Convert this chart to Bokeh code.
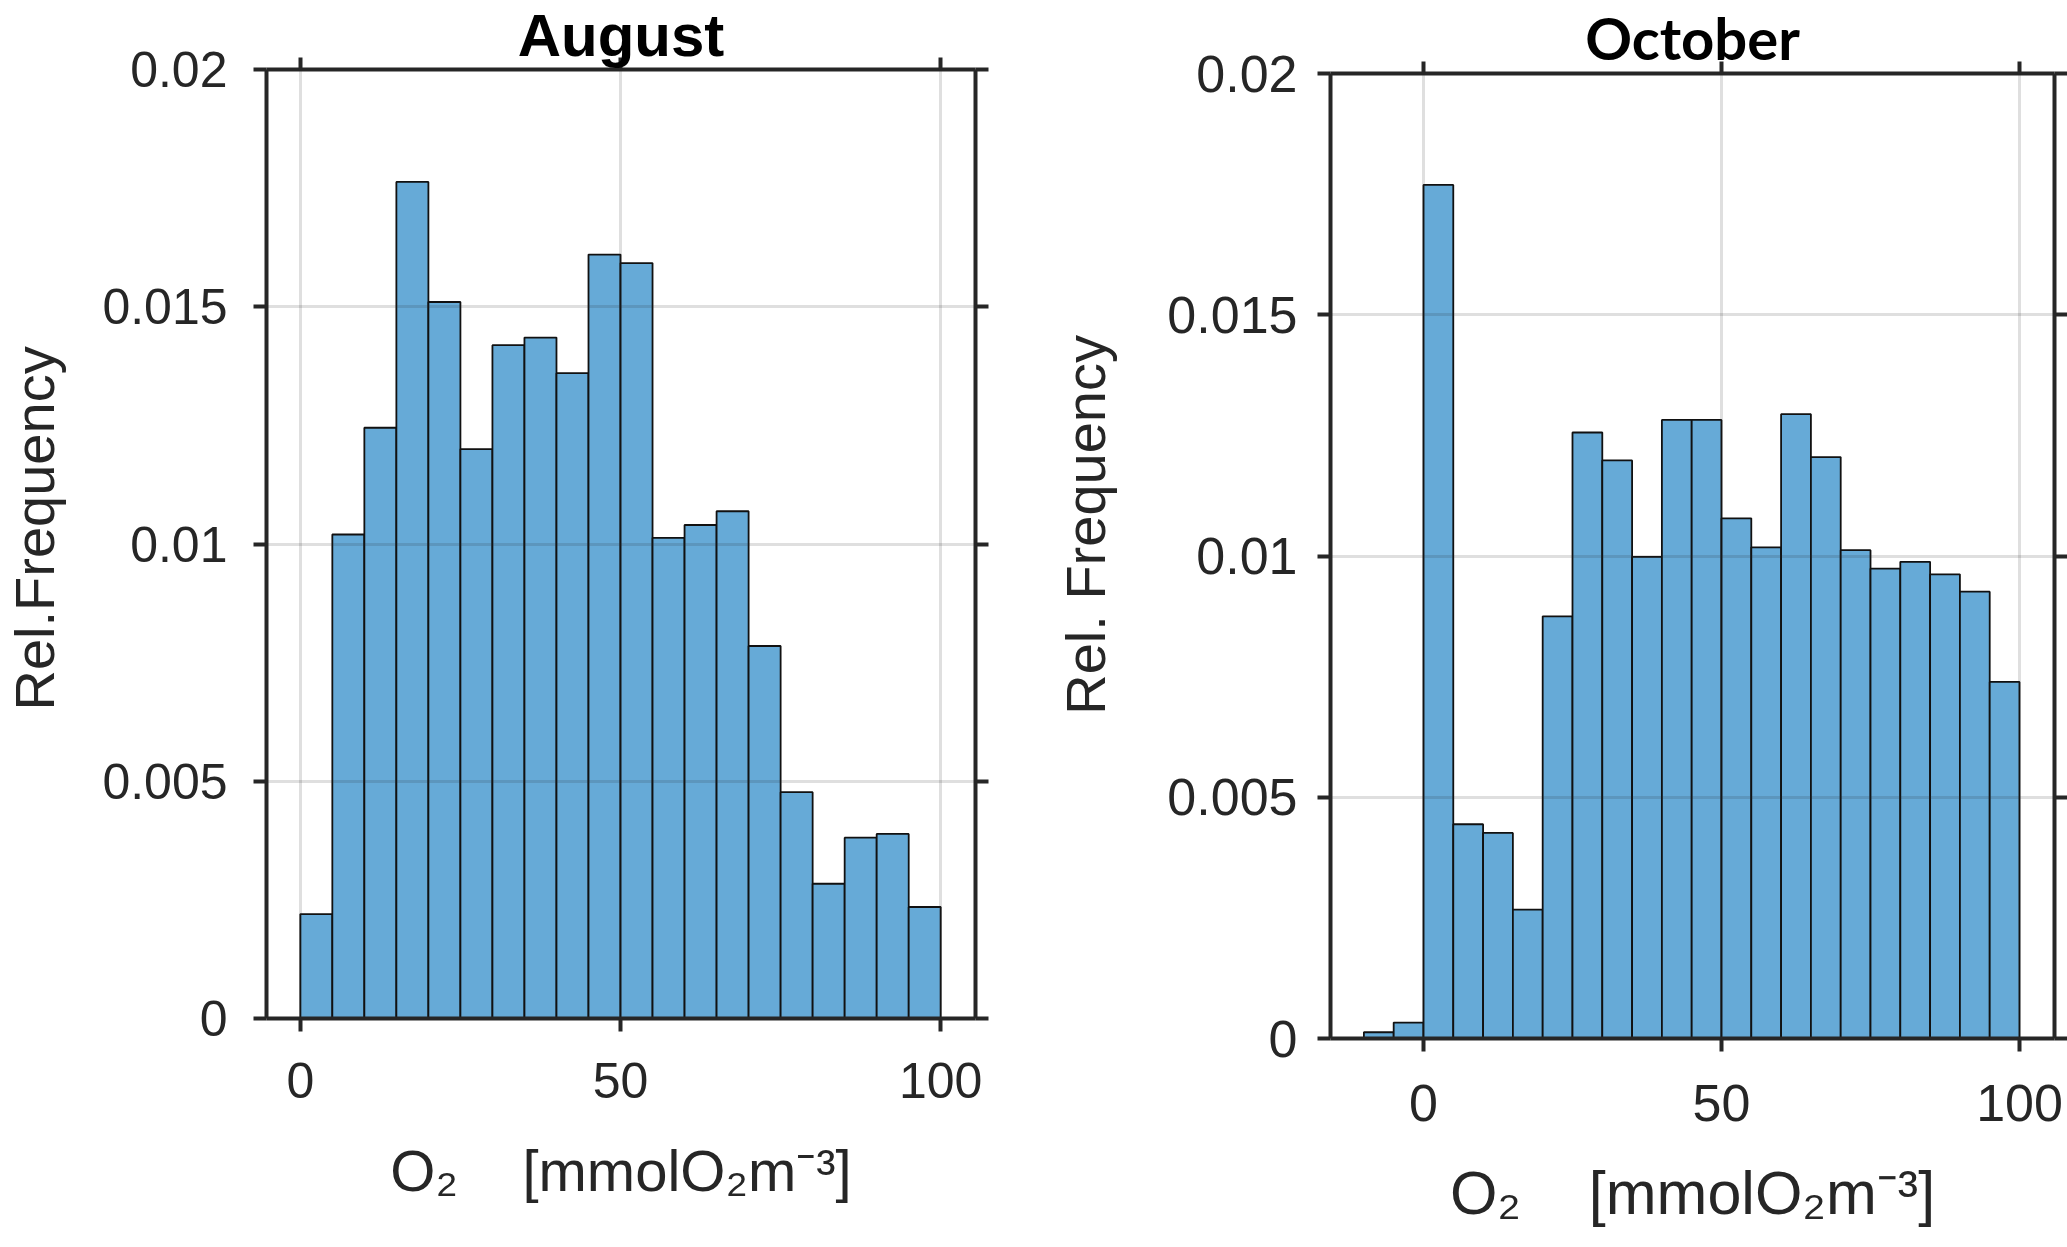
from bokeh.plotting import figure
from bokeh.models import LinearAxis, FixedTicker, Range1d, ColumnDataSource
from bokeh.layouts import row, column
from bokeh.embed import file_html
from bokeh.resources import INLINE

# ---------------- data ----------------
BIN_WIDTH = 5
aug_first_edge = 0
aug_rel_freq = [0.0022, 0.0102, 0.01245, 0.01763, 0.0151, 0.0120, 0.01419, 0.01435, 0.0136, 0.0161,
                0.01592, 0.01013, 0.0104, 0.01069, 0.00785, 0.00477, 0.00284, 0.00381, 0.00389, 0.00235]
oct_first_edge = -10
oct_rel_freq = [0.00013, 0.00033, 0.01769, 0.00444, 0.00426, 0.00267, 0.00875, 0.01256, 0.01198, 0.00998,
                0.01282, 0.01282, 0.01078, 0.01018, 0.01294, 0.01205, 0.01012, 0.00974, 0.00988, 0.00962,
                0.00926, 0.00739]
titles = ["August", "October"]
ylabels = ["Rel.Frequency", "Rel. Frequency"]
xlabel = "O\u2082\u00a0\u00a0\u00a0\u00a0[mmolO\u2082m\u207b\u00b3]"
x_ticks = [0, 50, 100]
x_tick_labels = ["0", "50", "100"]
y_ticks = [0, 0.005, 0.01, 0.015, 0.02]
y_tick_labels = ["0", "0.005", "0.01", "0.015", "0.02"]
Y_MIN, Y_MAX = 0.0, 0.02

AX = "#262626"
BAR = "#66aad7"
FONT = "Liberation Sans"
PAGE_H = 1247


def style_axis(ax, tick_out, standoff, font_size):
    ax.axis_line_width = 4
    ax.axis_line_color = AX
    ax.major_tick_line_width = 4
    ax.major_tick_line_color = AX
    ax.major_tick_out = tick_out
    ax.major_tick_in = 0
    ax.minor_tick_out = 0
    ax.minor_tick_in = 0
    ax.major_label_text_font = FONT
    ax.major_label_text_font_size = font_size
    ax.major_label_text_color = AX
    ax.major_label_standoff = standoff


def style_axis_label(ax, text, size, standoff):
    ax.axis_label = text
    ax.axis_label_text_font = FONT
    ax.axis_label_text_font_size = size
    ax.axis_label_text_font_style = "normal"
    ax.axis_label_text_color = AX
    ax.axis_label_standoff = standoff


def hist_fig(first_edge, freq, title, ylabel, c):
    L, R, T, B = c["frame"]            # frame box on the page (px)
    x0, x1 = c["box"]
    W, H = x1 - x0, PAGE_H
    p = figure(width=W, height=H, x_range=Range1d(*c["xr"]), y_range=Range1d(Y_MIN, Y_MAX),
               output_backend="svg", toolbar_location=None, title=title,
               min_border_left=L - x0, min_border_right=x1 - R,
               min_border_top=T, min_border_bottom=H - B)
    p.outline_line_color = None
    p.background_fill_color = "white"
    p.border_fill_color = "white"

    tfont, tsize, tstand = c["title"]
    p.title.text_font = tfont
    p.title.text_font_size = tsize
    p.title.text_font_style = "bold"
    p.title.text_color = "black"
    p.title.align = "center"
    p.title.vertical_align = "middle"
    p.title.standoff = tstand

    left = [first_edge + i * BIN_WIDTH for i in range(len(freq))]
    right = [v + BIN_WIDTH for v in left]
    src = ColumnDataSource(dict(left=left, right=right, top=freq, bottom=[Y_MIN] * len(freq)))
    p.quad(left="left", right="right", top="top", bottom="bottom", source=src,
           fill_color=BAR, line_color="#111111", line_width=1.8)

    xa = p.xaxis[0]
    ya = p.yaxis[0]
    xa.ticker = FixedTicker(ticks=x_ticks)
    ya.ticker = FixedTicker(ticks=y_ticks)
    xa.major_label_overrides = dict(zip(x_ticks, x_tick_labels))
    ya.major_label_overrides = dict(zip(y_ticks, y_tick_labels))
    style_axis(xa, 13, c["xstand"], c["tick_font"])
    style_axis(ya, 13, c["ystand"], c["tick_font"])
    style_axis_label(xa, xlabel, c["xlab"][0], c["xlab"][1])
    style_axis_label(ya, c["ypad"] + ylabel, "56px", c["ylab_stand"])

    ra = LinearAxis(ticker=FixedTicker(ticks=y_ticks),
                    major_label_overrides={t: "" for t in y_ticks})
    ta = LinearAxis(ticker=FixedTicker(ticks=x_ticks),
                    major_label_overrides={t: "" for t in x_ticks})
    style_axis(ra, 13, 0, "0px")
    style_axis(ta, 12, 0, "0px")
    p.add_layout(ra, "right")
    p.add_layout(ta, "above")

    p.xgrid.ticker = FixedTicker(ticks=x_ticks)
    p.ygrid.ticker = FixedTicker(ticks=y_ticks)
    for g in (p.xgrid[0], p.ygrid[0]):
        g.grid_line_color = AX
        g.grid_line_alpha = 0.15
        g.grid_line_width = 3
        g.level = "overlay"
    return p


cfg_aug = dict(box=(0, 1040), frame=(262, 975, 69, 1018),
               xr=(-5.28, 105.43), xstand=31, ystand=26, tick_font="50px",
               title=("Liberation Sans", "60px", -25),
               ylab_stand=33, ypad="\u00a0\u00a0",
               xlab=("58px", 37))
cfg_oct = dict(box=(1040, 2067), frame=(1330, 2054, 73, 1038),
               xr=(-15.6, 105.87), xstand=33, ystand=20, tick_font="52px",
               title=("Lato", "58px", -22),
               ylab_stand=47, ypad="\u00a0\u00a0\u00a0\u00a0",
               xlab=("61px", 35))

p1 = hist_fig(aug_first_edge, aug_rel_freq, titles[0], ylabels[0], cfg_aug)
p2 = hist_fig(oct_first_edge, oct_rel_freq, titles[1], ylabels[1], cfg_oct)

# each plot wrapped in its own column so the row does not align their frames
layout = row(column(p1, spacing=0), column(p2, spacing=0), spacing=0)
open("out.html", "w").write(file_html(layout, INLINE))
